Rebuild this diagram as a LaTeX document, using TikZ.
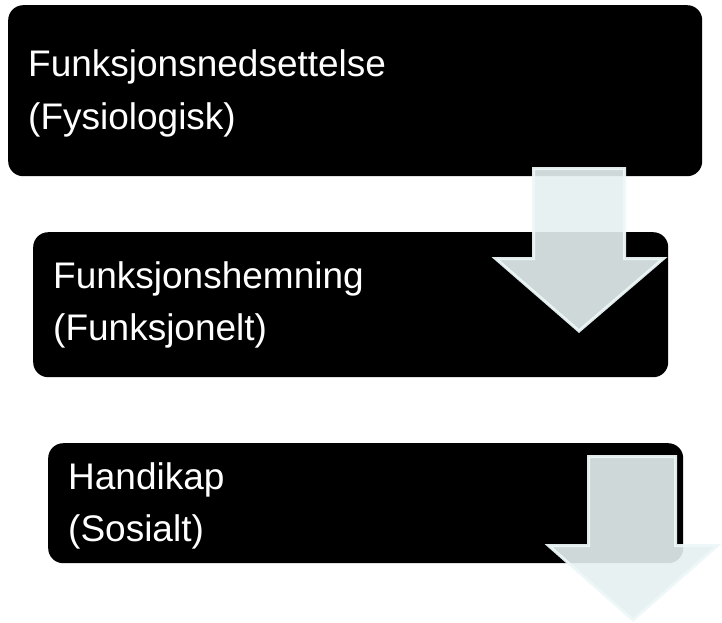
\documentclass[tikz,border=0pt]{standalone}
\usepackage{fontspec}
\setmainfont{Liberation Sans}
\definecolor{arrowfill}{RGB}{230,240,240}
\definecolor{arrowedge}{RGB}{238,248,248}
\begin{document}
\begin{tikzpicture}[x=1pt,y=-1pt,
  stagebox/.style={rectangle, rounded corners=15pt, fill=black, text=white,
    align=left, inner xsep=20pt, inner ysep=0pt, anchor=north west,
    font=\fontsize{37}{52.5}\selectfont},
  downarrow/.style={fill=arrowfill, fill opacity=0.9, draw=arrowedge,
    draw opacity=0.94, line width=3pt, line join=miter}]
\useasboundingbox (0,0) rectangle (722,622);
\node[stagebox, minimum width=694pt, minimum height=171pt, text width=654pt]
  (b1) at (8,5) {\rule{0pt}{32pt}Funksjonsnedsettelse\\(Fysiologisk)};
\node[stagebox, minimum width=635pt, minimum height=145pt, text width=595pt]
  (b2) at (33,232) {Funksjonshemning\\(Funksjonelt)};
\node[stagebox, minimum width=635pt, minimum height=120pt, text width=595pt]
  (b3) at (48,443) {\rule{0pt}{32pt}Handikap\\(Sosialt)};
% arrow 1
\path[downarrow] (533.5,168.5) -- (624.5,168.5) -- (624.5,258.5) -- (663.5,258.5)
  -- (579,331) -- (495.5,258.5) -- (533.5,258.5) -- cycle;
% arrow 2
\path[downarrow] (588.5,456.5) -- (675.5,456.5) -- (675.5,545.5) -- (717.5,545.5)
  -- (633,620) -- (548.5,545.5) -- (588.5,545.5) -- cycle;
\end{tikzpicture}
\end{document}
